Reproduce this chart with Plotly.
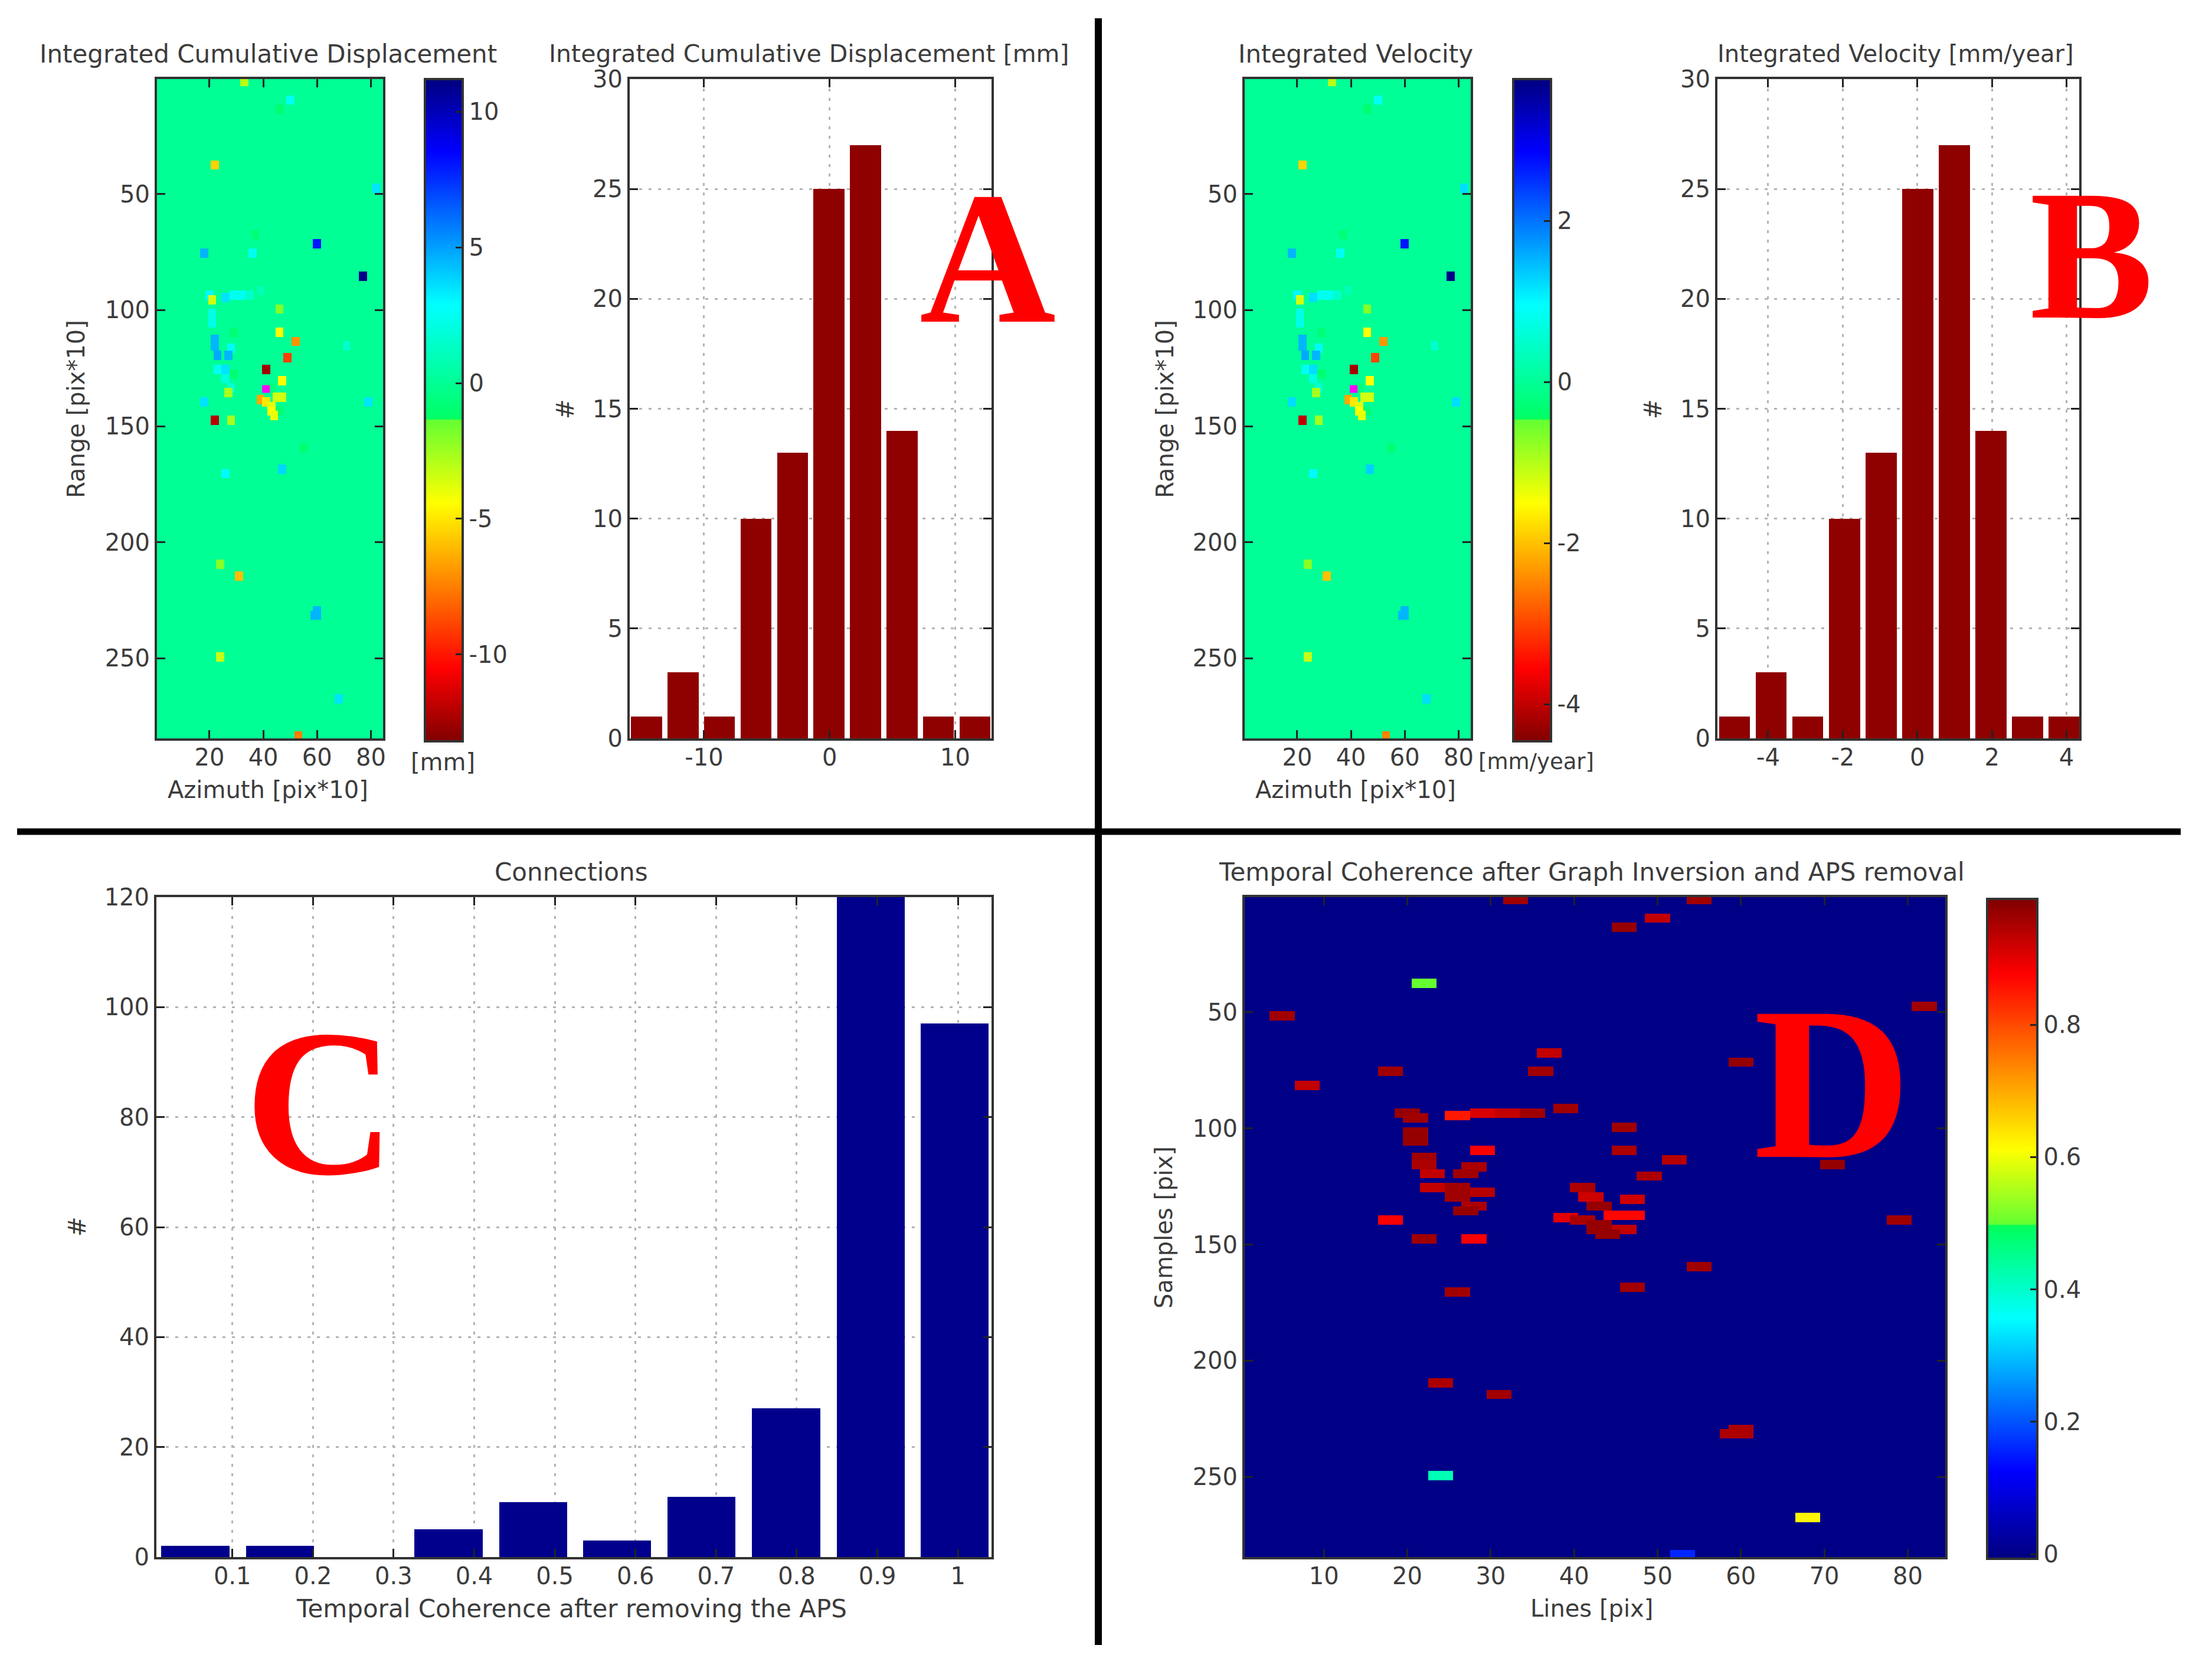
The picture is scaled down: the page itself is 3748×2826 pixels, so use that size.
import numpy as np
import plotly.graph_objects as go

W, H = 3748, 2826

# ---------- data ----------
pt_col = [33, 55, 50, 46, 22, 5, 82, 37, 60, 18, 36, 8, 77, 20, 21.5, 26, 29, 32, 35, 39, 46, 21, 21, 29, 46, 52, 71,
          22, 22, 23, 28, 27, 49, 26, 23.5, 26, 28.5, 28, 26.5, 41, 42, 46.5, 43, 44.5, 46.5, 39, 41, 43.5, 46.3, 43.5, 44, 18, 79,
          22, 28, 55, 47, 26, 24, 31, 59, 60, 60, 24, 68, 53]
pt_row = [2, 2, 10, 14, 37, 51, 48, 68, 71, 76, 76, 81, 85, 94, 96, 94.5, 94, 94, 94, 92, 99.5, 102, 106, 109, 109, 113.5, 116,
          112.5, 116, 119, 116.5, 119, 120.5, 125, 126, 130, 128, 133, 136, 126, 129.5, 130.5, 133, 137.5, 137.5, 138.5, 139, 141.5, 143, 144, 146, 140, 140,
          148, 148, 159, 168.5, 170.5, 209, 214.5, 231.5, 231.5, 229, 249, 267, 283.5]
cum_mm = [-3, 0, 2.5, -1, -5.5, 0, 3.5, -0.8, 8, 4.5, 2.5, 0, 11, 3, -3.5, 3.5, 2.5, 2.5, 1.5, 0.8, -2, 2.2, 2.3, -0.8, -4.5, -7, 1.5,
          4.5, 4.5, 4.8, 3, 4.5, -9, 3.5, 2.5, 2, -1, 1.8, -2.7, -12.5, 0, -4.5, -0.8, -3.5, -3.5, -6.5, -5, -3.8, -1, -4.5, -4, 3.5, 3.5,
          -12, -2.7, -1, 3.8, 3, -2, -6, 4.5, 4.5, 4.5, -3.3, 3.5, -7.5]
vel_mm = [-1, 0, 0.85, -0.35, -1.85, 0, 1.2, -0.27, 2.7, 1.5, 0.85, 0, 3.7, 1, -1.2, 1.2, 0.85, 0.85, 0.5, 0.27, -0.7, 0.75, 0.78, -0.27, -1.5, -2.35, 0.5,
          1.5, 1.5, 1.6, 1, 1.5, -3, 1.2, 0.85, 0.7, -0.35, 0.6, -0.9, -4.2, 0, -1.5, -0.27, -1.2, -1.2, -2.2, -1.7, -1.3, -0.35, -1.5, -1.35, 1.2, 1.2,
          -4, -0.9, -0.35, 1.3, 1, -0.7, -2, 1.5, 1.5, 1.5, -1.1, 1.2, -2.5]
coh = [0.96, 0.96, 0.93, 0.97, 0.5, 0.96, 0.96, 0.93, 0.97, 0.96, 0.96, 0.93, 0.92, 0.97, 0.96, 0.85, 0.91, 0.93, 0.96, 0.96, 0.96, 0.97, 0.97, 0.88, 0.95, 0.94, 0.97,
       0.96, 0.95, 0.93, 0.95, 0.96, 0.95, 0.96, 0.93, 0.96, 0.94, 0.95, 0.97, 0.95, 0.92, 0.92, 0.97, 0.87, 0.87, 0.9, 0.95, 0.97, 0.93, 0.97, 0.97, 0.88, 0.96,
       0.96, 0.88, 0.96, 0.96, 0.96, 0.95, 0.96, 0.95, 0.95, 0.95, 0.42, 0.62, 0.16]
outlier_col = [41]
outlier_row = [134]

cum_bins = [-14.58, -11.67, -8.77, -5.86, -2.95, -0.05, 2.86, 5.77, 8.67, 11.58]
vel_bins = [-4.9, -3.92, -2.94, -1.95, -0.97, 0.01, 0.99, 1.97, 2.96, 3.94]
hist_counts = [1, 3, 1, 10, 13, 25, 27, 14, 1, 1]
coh_bins = [0.054, 0.159, 0.263, 0.368, 0.473, 0.577, 0.682, 0.787, 0.892, 0.996]
coh_counts = [2, 2, 0, 5, 10, 3, 11, 27, 125, 97]

jet_rev = [[0, "rgb(128,0,0)"], [0.11, "rgb(255,0,0)"], [0.36, "rgb(255,255,0)"], [0.485, "rgb(100,255,50)"],
           [0.487, "rgb(0,255,100)"], [0.66, "rgb(0,255,255)"], [0.89, "rgb(0,0,255)"], [1, "rgb(0,0,128)"]]
jet = [[0, "rgb(0,0,128)"], [0.133, "rgb(0,0,255)"], [0.364, "rgb(0,255,255)"], [0.505, "rgb(0,255,90)"],
       [0.507, "rgb(100,255,50)"], [0.62, "rgb(255,255,0)"], [0.885, "rgb(255,0,0)"], [1, "rgb(128,0,0)"]]

FONT = "DejaVu Sans"
TXT = "#3c3c3c"
FS = 40
FS_TITLE = 42
FRAME = "#333333"


def grid(vals):
    z = np.zeros((284, 84))
    for c, r, v in zip(pt_col, pt_row, vals):
        c0 = int(round(c - 1))
        r0 = int(round(r - 1.5))
        z[max(r0 - 1, 0):min(r0 + 3, 284), max(c0 - 1, 0):min(c0 + 2, 84)] = v
    return z


cols = list(range(1, 85))
rows = list(range(1, 285))


def dom_x(a, b):
    return [a / W, b / W]


def dom_y(a, b):
    return [1 - b / H, 1 - a / H]


def axis(domain, anchor, rng, tickvals, ticktext=None, grid_on=False, standoff=0):
    d = dict(domain=domain, anchor=anchor, range=rng, tickmode="array", tickvals=tickvals,
             ticks="inside", ticklen=14, tickwidth=3, tickcolor="#222222",
             showline=True, linewidth=4, linecolor=FRAME, mirror="ticks", zeroline=False,
             showgrid=grid_on, gridcolor="#b4b4b4", gridwidth=3, griddash="5px,11px",
             tickfont=dict(family=FONT, size=FS, color=TXT))
    d["ticktext"] = ticktext if ticktext is not None else [str(v) for v in tickvals]
    if standoff:
        d["ticklabelstandoff"] = standoff
    return d


def cbar(x, top, bottom, width, tickvals, ticktext):
    return dict(x=x / W, xanchor="left", xpad=0, y=1 - top / H, yanchor="top", ypad=0,
                len=(bottom - top) / H, lenmode="fraction", thickness=width, thicknessmode="pixels",
                outlinecolor=FRAME, outlinewidth=4, ticks="inside", ticklen=14, tickwidth=3, tickcolor="#222222",
                tickmode="array", tickvals=tickvals, ticktext=ticktext,
                tickfont=dict(family=FONT, size=FS, color=TXT))


TOP0, BOT0 = 134, 1251
TOP1, BOT1 = 1520, 2638
fig = go.Figure()

# panel A / B maps
fig.add_trace(go.Heatmap(x=cols, y=rows, z=grid(cum_mm), zmin=-13.2, zmax=11.2, colorscale=jet_rev,
                         xaxis="x", yaxis="y",
                         colorbar=cbar(720, 134, 1256, 64, [10, 5, 0, -5, -10], ["10", "5", "0", "-5", "-10"])))
fig.add_trace(go.Scatter(x=outlier_col, y=outlier_row, mode="markers", xaxis="x", yaxis="y", showlegend=False,
                         marker=dict(symbol="square", size=13, color="#ff00ff")))
fig.add_trace(go.Bar(x=cum_bins, y=hist_counts, width=2.47, marker=dict(color="#8f0000", line_width=0),
                     xaxis="x2", yaxis="y2", showlegend=False))
fig.add_trace(go.Heatmap(x=cols, y=rows, z=grid(vel_mm), zmin=-4.46, zmax=3.76, colorscale=jet_rev,
                         xaxis="x3", yaxis="y3",
                         colorbar=cbar(2564, 134, 1256, 64, [2, 0, -2, -4], ["2", "0", "-2", "-4"])))
fig.add_trace(go.Scatter(x=outlier_col, y=outlier_row, mode="markers", xaxis="x3", yaxis="y3", showlegend=False,
                         marker=dict(symbol="square", size=13, color="#ff00ff")))
fig.add_trace(go.Bar(x=vel_bins, y=hist_counts, width=0.834, marker=dict(color="#8f0000", line_width=0),
                     xaxis="x4", yaxis="y4", showlegend=False))
# panel C / D
fig.add_trace(go.Bar(x=coh_bins, y=coh_counts, width=0.0845, marker=dict(color="#00008c", line_width=0),
                     xaxis="x5", yaxis="y5", showlegend=False))
fig.add_trace(go.Heatmap(x=cols, y=rows, z=grid(coh), zmin=-0.007, zmax=0.99, colorscale=jet,
                         xaxis="x6", yaxis="y6",
                         colorbar=cbar(3367, 1523, 2641, 85, [0, 0.2, 0.4, 0.6, 0.8], ["0", "0.2", "0.4", "0.6", "0.8"])))

map_y = [50, 100, 150, 200, 250]
map_x = [20, 40, 60, 80]
y5 = [0, 5, 10, 15, 20, 25, 30]
SO = -6
layout = dict(
    xaxis=axis(dom_x(266, 649), "y", [0.5, 84.5], map_x, standoff=SO),
    yaxis=axis(dom_y(TOP0, BOT0), "x", [284.5, 0.5], map_y),
    xaxis2=axis(dom_x(1067, 1680), "y2", [-15.92, 12.89], [-10, 0, 10], ["-10", "0", "10"], True, SO),
    yaxis2=axis(dom_y(TOP0, BOT0), "x2", [0, 30], y5, None, True),
    xaxis3=axis(dom_x(2109, 2492), "y3", [0.5, 84.5], map_x, standoff=SO),
    yaxis3=axis(dom_y(TOP0, BOT0), "x3", [284.5, 0.5], map_y),
    xaxis4=axis(dom_x(2910, 3523), "y4", [-5.36, 4.34], [-4, -2, 0, 2, 4], ["-4", "-2", "0", "2", "4"], True, SO),
    yaxis4=axis(dom_y(TOP0, BOT0), "x4", [0, 30], y5, None, True),
    xaxis5=axis(dom_x(265, 1680), "y5", [0.0058, 1.0416], [0.1, 0.2, 0.3, 0.4, 0.5, 0.6, 0.7, 0.8, 0.9, 1], None, True, SO),
    yaxis5=axis(dom_y(TOP1, BOT1), "x5", [0, 120], [0, 20, 40, 60, 80, 100, 120], None, True),
    xaxis6=axis(dom_x(2109, 3296), "y6", [0.5, 84.5], [10, 20, 30, 40, 50, 60, 70, 80], standoff=SO),
    yaxis6=axis(dom_y(TOP1, BOT1), "x6", [284.5, 0.5], map_y),
)


def note(text, x, y, angle=0, size=FS, color=TXT, family=FONT, bold=False):
    return dict(text=("<b>%s</b>" % text) if bold else text, x=x / W, y=1 - y / H, xref="paper", yref="paper",
                showarrow=False, xanchor="center", yanchor="middle", textangle=angle,
                font=dict(family=family, size=size, color=color))


SERIF = "Liberation Serif"
notes = [
    note("Integrated Cumulative Displacement", 454, 91, size=FS_TITLE),
    note("Integrated Cumulative Displacement [mm]", 1371, 91, size=41),
    note("Integrated Velocity", 2297, 91, size=FS_TITLE),
    note("Integrated Velocity [mm/year]", 3212, 91),
    note("Connections", 968, 1477, size=FS_TITLE),
    note("Temporal Coherence after Graph Inversion and APS removal", 2697, 1477, size=FS_TITLE),
    note("Azimuth [pix*10]", 454, 1338),
    note("Azimuth [pix*10]", 2297, 1338),
    note("Temporal Coherence after removing the APS", 968, 2725, size=FS_TITLE),
    note("Lines [pix]", 2697, 2725),
    note("Range [pix*10]", 129, 693, -90),
    note("Range [pix*10]", 1974, 693, -90),
    note("#", 958, 693, -90),
    note("#", 2801, 693, -90),
    note("#", 131, 2078, -90),
    note("Samples [pix]", 1972, 2080, -90),
    note("[mm]", 750, 1291),
    note("[mm/year]", 2603, 1291, size=37),
    note("A", 1673, 437, size=320, color="#ff0000", family=SERIF, bold=True),
    note("B", 3544, 431, size=315, color="#ff0000", family=SERIF, bold=True),
    note("C", 542, 1868, size=355, color="#ff0000", family=SERIF, bold=True),
    note("D", 3104, 1835, size=370, color="#ff0000", family=SERIF, bold=True),
]

shapes = [
    dict(type="line", xref="paper", yref="paper", x0=1861 / W, x1=1861 / W, y0=1 - 31 / H, y1=1 - 2787 / H,
         line=dict(color="black", width=12)),
    dict(type="line", xref="paper", yref="paper", x0=29 / W, x1=3695 / W, y0=1 - 1409 / H, y1=1 - 1409 / H,
         line=dict(color="black", width=11)),
]

fig.update_layout(width=W, height=H, autosize=False, margin=dict(l=0, r=0, t=0, b=0, autoexpand=False),
                  paper_bgcolor="white", plot_bgcolor="white", showlegend=False, annotations=notes, shapes=shapes,
                  bargap=0, **layout)
fig.write_html("out.html", config=dict(displayModeBar=False),
               post_script="document.body.style.margin='0';")
